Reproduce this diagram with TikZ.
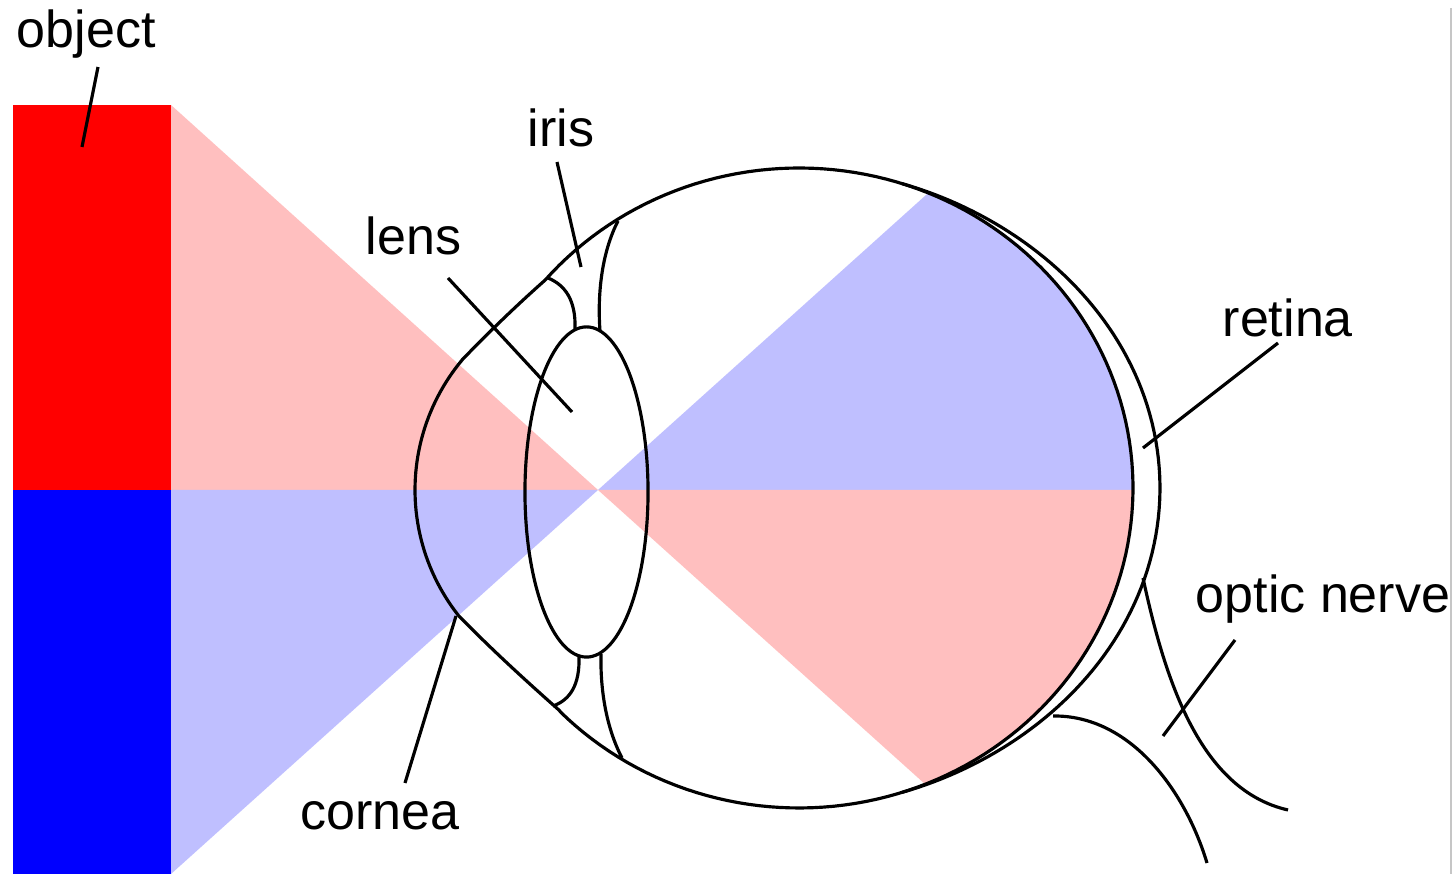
\documentclass[tikz,border=0pt]{standalone}
\usepackage{fontspec}
\setmainfont{Liberation Sans}
\definecolor{lred}{RGB}{255,191,191}
\definecolor{lblue}{RGB}{191,191,255}
\begin{document}
\begin{tikzpicture}[x=0.01cm,y=-0.01cm,
  outline/.style={line width=0.9pt, black, line join=round},
  leader/.style={line width=0.9pt, black},
  lbl/.style={anchor=base west, inner sep=0pt, font=\fontsize{14.8}{17}\selectfont}]
\useasboundingbox (0,0) rectangle (1454,874);
\fill[white] (0,0) rectangle (1454,874);
% object
\fill[red] (13,105) rectangle (171,490);
\fill[blue] (13,490) rectangle (171,874);
\coordinate (X) at (598,490);
\fill[lred] (171,105) -- (X) -- (171,490) -- cycle;
\fill[lblue] (171,490) -- (X) -- (171,874) -- cycle;
\begin{scope}
  \clip (799,488) ellipse [x radius=3.34cm, y radius=3.2cm];
  \fill[lblue] (X) -- (1238.5,-86) -- (1400,-86) -- (1400,490) -- cycle;
  \fill[lred] (X) -- (1238.5,1066) -- (1400,1066) -- (1400,490) -- cycle;
\end{scope}
% eye outline (sclera + cornea)
\draw[outline] (458,615) .. controls (490,648) and (525,680) .. (560,711)
  -- plot[domain=135.7:-139.5, samples=150] ({799+334*cos(\x)}, {488+320*sin(\x)})
  .. controls (517,305) and (488,333) .. (462,360)
  -- plot[domain=220:142, samples=50] ({618+203*cos(\x)}, {490+203*sin(\x)}) -- cycle;
% retina outer surface
\draw[outline] plot[domain=-72:72, samples=100] ({799+(334+27.8*(cos(\x)*cos(\x)*cos(\x)-0.0295))*cos(\x)}, {488+(320+27.8*(cos(\x)*cos(\x)*cos(\x)-0.0295))*sin(\x)});
% lens
\draw[outline] (586.5,492) ellipse [x radius=0.615cm, y radius=1.65cm];
% iris / ciliary body
\draw[outline] (575,329) .. controls (576,300) and (565,285) .. (548,278);
\draw[outline] (600,331) .. controls (597,290) and (603,250) .. (618,221);
\draw[outline] (579,656) .. controls (580,685) and (570,700) .. (553,706);
\draw[outline] (601,654) .. controls (600,700) and (610,735) .. (622,758);
% optic nerve
\draw[outline] (1143,578) .. controls (1165,680) and (1200,790) .. (1288,810);
\draw[outline] (1053,716) .. controls (1130,715) and (1185,790) .. (1207,863);
% labels
\node[lbl] (object) at (16,48) {object};
\node[lbl] (iris) at (527,147) {iris};
\node[lbl] (lens) at (365,255) {lens};
\node[lbl] (retina) at (1222,337) {retina};
\node[lbl] (nerve) at (1195,613) {optic nerve};
\node[lbl] (cornea) at (300,830) {cornea};
% leader lines
\coordinate (objA) at (98,67);   \coordinate (objB) at (82,147);
\coordinate (irisA) at (557,162); \coordinate (irisB) at (581,267);
\coordinate (lensA) at (448,278); \coordinate (lensB) at (572,412);
\coordinate (retA) at (1278,343); \coordinate (retB) at (1143,448);
\coordinate (nerA) at (1235,640); \coordinate (nerB) at (1163,736);
\coordinate (corA) at (456,616); \coordinate (corB) at (405,783);
\draw[leader] (objA) -- (objB);
\draw[leader] (irisA) -- (irisB);
\draw[leader] (lensA) -- (lensB);
\draw[leader] (retA) -- (retB);
\draw[leader] (nerA) -- (nerB);
\draw[leader] (corA) -- (corB);
% right border
\draw[gray!45, line width=0.6pt] (1451,8) -- (1451,874);
\end{tikzpicture}
\end{document}
